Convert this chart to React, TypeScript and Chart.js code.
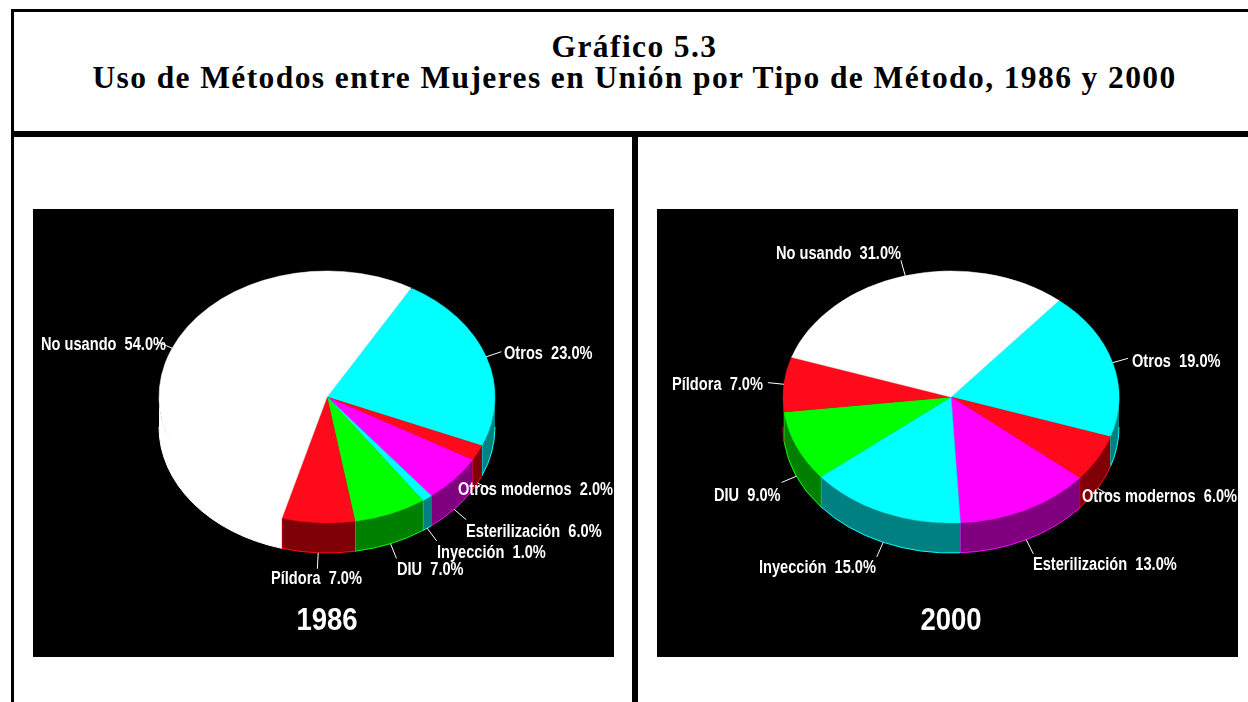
import React, { useEffect, useRef } from "react";
import { Chart, registerables } from "chart.js";

Chart.register(...registerables);

const TITLE_LINE_1 = "Gráfico 5.3";
const TITLE_LINE_2 = "Uso de Métodos entre Mujeres en Unión por Tipo de Método, 1986 y 2000";

const categories = ["Otros", "Otros modernos", "Esterilización", "Inyección", "DIU", "Píldora", "No usando"];
const values1986 = [23, 2, 6, 1, 7, 7, 54];
const values2000 = [19, 6, 13, 15, 9, 7, 31];
const topColors = ["#00ffff", "#ff0a1a", "#ff00ff", "#00ffff", "#00ff00", "#ff0a1a", "#ffffff"];
const wallColors = ["#008080", "#800008", "#800080", "#008080", "#008000", "#800008", "#ffffff"];

const RX = 168;
const RY = 126;
const DEPTH = 30;
const LEADER = 16;
const LABEL_FONT = 'bold 17.5px "Liberation Sans"';
const LABEL_SQUEEZE = 0.835;
const YEAR_FONT = 'bold 32px "Liberation Sans"';
const YEAR_SQUEEZE = 0.86;

// left edge / vertical middle of each label inside its panel, same order as categories
const labelPlace1986 = [[471, 145], [425, 281], [433, 323], [404, 344], [364, 361], [238, 370], [8, 136]];
const labelPlace2000 = [[475, 153], [425, 288], [376, 356], [102, 359], [57, 287], [15, 176], [119, 45]];

const pie3d = {
  id: "pie3d",
  beforeDatasetsDraw(chart: any) {
    const ctx = chart.ctx;
    const meta = chart.getDatasetMeta(0);
    ctx.save();
    meta.data.forEach((arc: any, i: number) => {
      const cx = arc.x, cy = arc.y;
      const two = Math.PI * 2;
      const ranges: [number, number][] = [];
      let s = arc.startAngle % two, e = arc.endAngle % two;
      if (s < 0) s += two;
      if (e <= 0) e += two;
      if (e < s) { ranges.push([s, two]); ranges.push([0, e]); } else ranges.push([s, e]);
      ranges.forEach(([a, b]) => {
        const a1 = Math.max(a, 0), a2 = Math.min(b, Math.PI);
        if (a2 <= a1) return;
        ctx.beginPath();
        ctx.ellipse(cx, cy, RX, RY - 3, 0, a1, a2);
        ctx.ellipse(cx, cy + DEPTH, RX, RY, 0, a2, a1, true);
        ctx.closePath();
        ctx.fillStyle = wallColors[i];
        ctx.fill();
        ctx.strokeStyle = topColors[i];
        ctx.lineWidth = 1;
        ctx.beginPath();
        ctx.ellipse(cx, cy + DEPTH, RX, RY, 0, a1, a2);
        ctx.stroke();
        if (a2 < Math.PI) {
          ctx.beginPath();
          const x = cx + RX * Math.cos(a2), y = cy + RY * Math.sin(a2);
          ctx.moveTo(x, y);
          ctx.lineTo(x, y + DEPTH);
          ctx.stroke();
        }
      });
    });
    ctx.restore();
    const p = meta.data[0];
    ctx.save();
    ctx.translate(p.x, p.y);
    ctx.scale(1, RY / RX);
    ctx.translate(-p.x, -p.y);
  },
  afterDatasetsDraw(chart: any) {
    const ctx = chart.ctx;
    ctx.restore();
    const meta = chart.getDatasetMeta(0);
    const places = chart.options.plugins.pie3d.places;
    ctx.save();
    meta.data.forEach((arc: any) => {
      const mid = (arc.startAngle + arc.endAngle) / 2;
      const c = Math.cos(mid), sn = Math.sin(mid);
      const x = arc.x + RX * c;
      const y = arc.y + RY * sn + (sn > 0 ? DEPTH : 0);
      ctx.strokeStyle = "#ffffff";
      ctx.lineWidth = 1;
      ctx.beginPath();
      ctx.moveTo(x, y);
      ctx.lineTo(x + LEADER * c, y + LEADER * sn);
      ctx.stroke();
    });
    ctx.fillStyle = "#ffffff";
    ctx.textAlign = "left";
    ctx.textBaseline = "middle";
    ctx.font = LABEL_FONT;
    const vals = chart.data.datasets[0].data;
    chart.data.labels.forEach((lab: string, i: number) => {
      ctx.save();
      ctx.translate(places[i][0], places[i][1]);
      ctx.scale(LABEL_SQUEEZE, 1);
      ctx.fillText(`${lab}  ${vals[i].toFixed(1)}%`, 0, 0);
      ctx.restore();
    });
    ctx.font = YEAR_FONT;
    ctx.textAlign = "center";
    ctx.translate(meta.data[0].x, 412);
    ctx.scale(YEAR_SQUEEZE, 1);
    ctx.fillText(chart.options.plugins.pie3d.year, 0, 0);
    ctx.restore();
  },
};

function Pie({ values, rotation, year, places, left }: any) {
  const ref = useRef<HTMLCanvasElement>(null);
  useEffect(() => {
    const chart = new Chart(ref.current as HTMLCanvasElement, {
      type: "doughnut",
      data: {
        labels: categories,
        datasets: [{ data: values, backgroundColor: topColors, borderColor: topColors, borderWidth: 0.6 }],
      },
      options: {
        animation: false,
        responsive: false,
        cutout: 0,
        radius: RX,
        rotation,
        layout: { padding: { left: 7, bottom: 72 } },
        plugins: {
          legend: { display: false },
          tooltip: { enabled: false },
          pie3d: { places, year },
        },
      } as any,
      plugins: [pie3d],
    });
    return () => chart.destroy();
  }, []);
  return (
    <canvas
      ref={ref}
      width={581}
      height={448}
      style={{ position: "absolute", left, top: 209, width: 581, height: 448, background: "#000", display: "block" }}
    />
  );
}

const bar = (left: number, top: number, width: number, height: number) => (
  <div style={{ position: "absolute", left, top, width, height, background: "#000" }} />
);

export default function App() {
  return (
    <div style={{ position: "absolute", left: 0, top: 0, width: 1248, height: 702, overflow: "hidden", background: "#fff" }}>
      {bar(11, 9, 1237, 3)}
      {bar(11, 9, 3, 693)}
      {bar(11, 131, 1237, 6)}
      {bar(632, 131, 6, 571)}
      <div
        style={{
          position: "absolute", left: 0, width: 1269, top: 31, textAlign: "center",
          fontFamily: '"Liberation Serif"', fontWeight: "bold", fontSize: 31.5, lineHeight: "31px",
          letterSpacing: "1.4px", color: "#000", whiteSpace: "nowrap",
        }}
      >
        {TITLE_LINE_1}
        <br />
        {TITLE_LINE_2}
      </div>
      <Pie values={values1986} rotation={30} year="1986" places={labelPlace1986} left={33} />
      <Pie values={values2000} rotation={40} year="2000" places={labelPlace2000} left={657} />
    </div>
  );
}
